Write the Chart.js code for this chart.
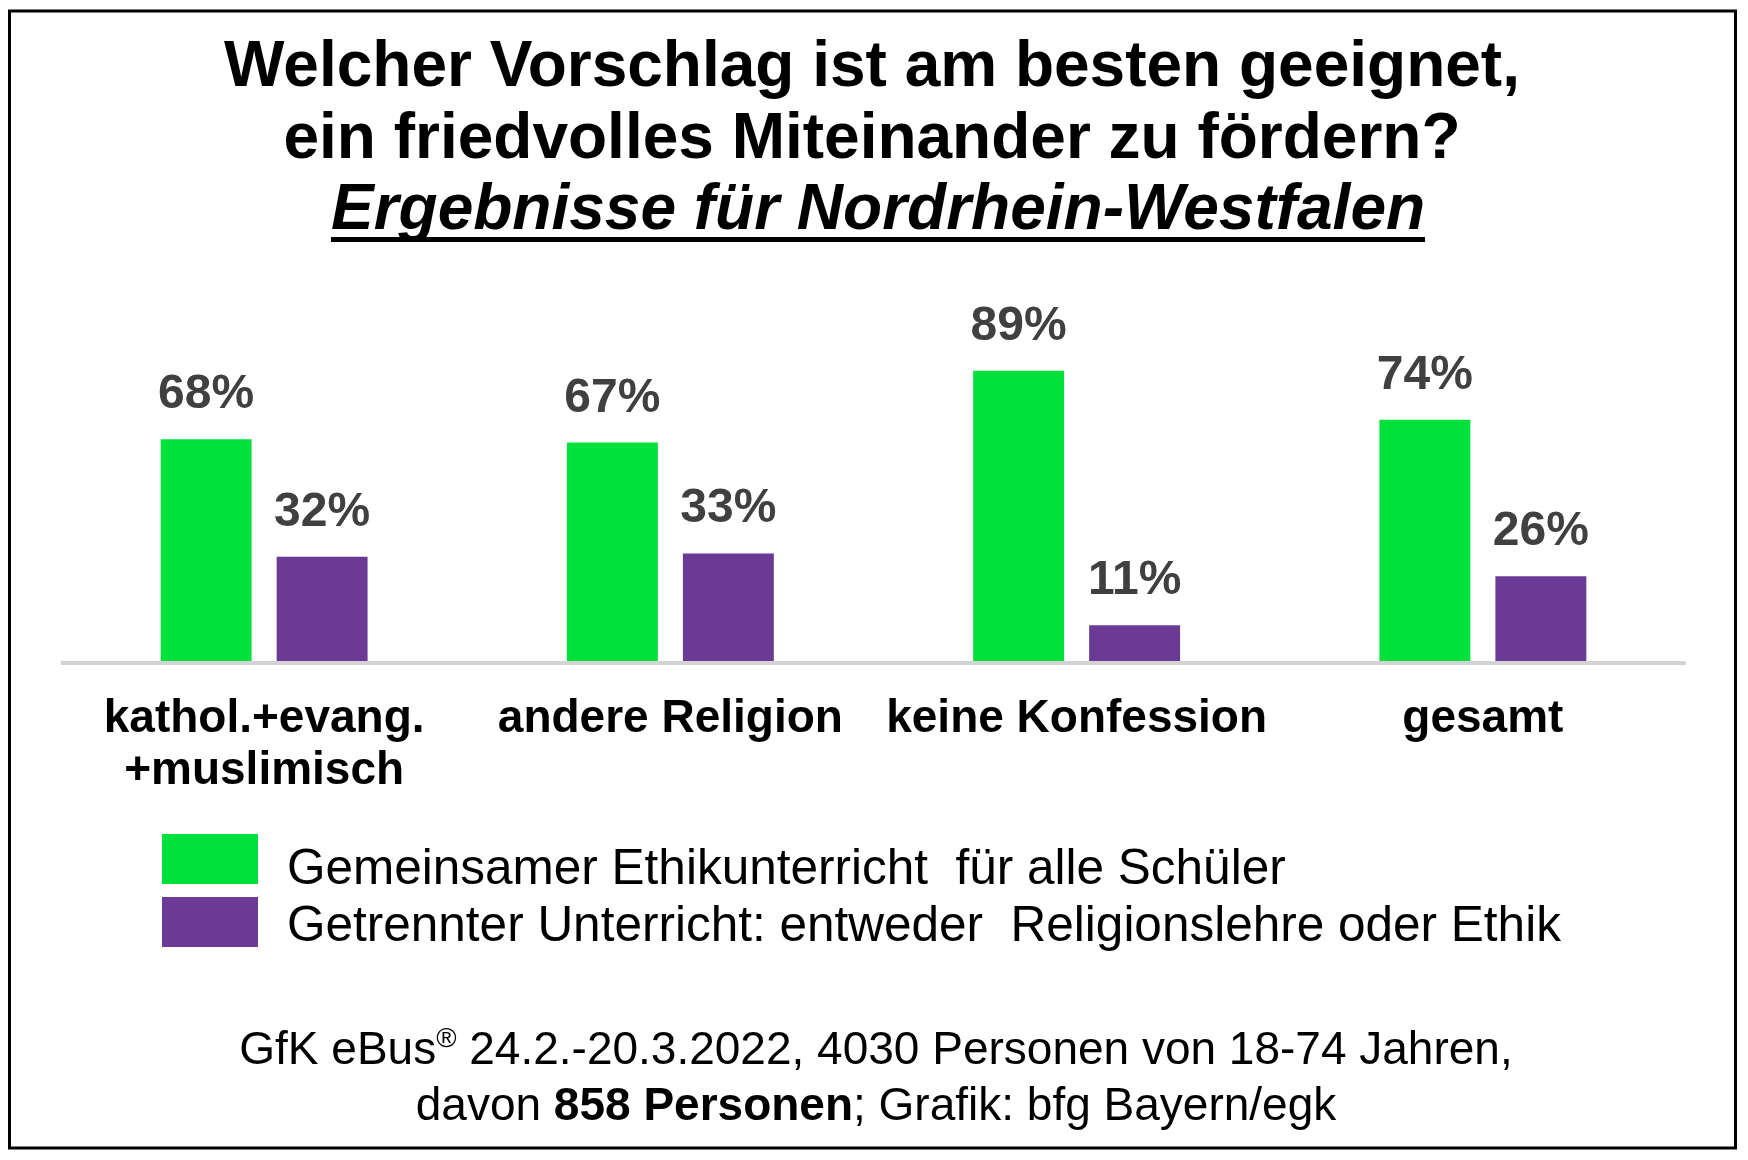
<!DOCTYPE html>
<html lang="de">
<head>
<meta charset="UTF-8">
<title>Welcher Vorschlag ist am besten geeignet?</title>
<script src="https://cdn.jsdelivr.net/npm/chart.js"></script>
<style>
    html, body { margin: 0; padding: 0; background: #fff; }
    canvas { display: block; }
</style>
</head>
<body>

<canvas id="grafik" width="1748" height="1160"></canvas>

<script>
    // Daten
    const kategorien = [['kathol.+evang.', '+muslimisch'], 'andere Religion', 'keine Konfession', 'gesamt'];
    const gemeinsam = [68, 67, 89, 74];
    const getrennt = [32, 33, 11, 26];
    const serien = ['Gemeinsamer Ethikunterricht  für alle Schüler', 'Getrennter Unterricht: entweder  Religionslehre oder Ethik'];
    const farben = ['#00e13b', '#6b3a94'];

    // Texte
    const titelZeilen = ['Welcher Vorschlag ist am besten geeignet,', 'ein friedvolles Miteinander zu fördern?'];
    const untertitel = 'Ergebnisse für Nordrhein-Westfalen';
    const quelleZeile1 = [{ t: 'GfK eBus' }, { t: '®', sup: true }, { t: ' 24.2.-20.3.2022, 4030 Personen von 18-74 Jahren,' }];
    const quelleZeile2 = [{ t: 'davon ' }, { t: '858 Personen', bold: true }, { t: '; Grafik: bfg Bayern/egk' }];

    const schrift = "'Liberation Sans', Arial, Helvetica, sans-serif";
    const mitte = 874;

    // Text aus mehreren Stücken zentriert schreiben
    function stueckeZeichnen(ctx, stuecke, cx, y, size) {
        const fontFor = s => (s.bold ? 'bold ' : '') + (s.sup ? size * 0.6 : size) + 'px ' + schrift;
        let breite = 0;
        stuecke.forEach(s => { ctx.font = fontFor(s); breite += ctx.measureText(s.t).width; });
        let x = cx - breite / 2;
        ctx.textAlign = 'left';
        stuecke.forEach(s => {
            ctx.font = fontFor(s);
            ctx.fillText(s.t, x, s.sup ? y - size * 0.38 : y);
            x += ctx.measureText(s.t).width;
        });
    }

    // Prozentwerte über den Balken
    const werteBeschriftung = {
        id: 'werteBeschriftung',
        afterDatasetsDraw(chart) {
            const ctx = chart.ctx;
            ctx.save();
            ctx.fillStyle = '#404040';
            ctx.font = 'bold 48px ' + schrift;
            ctx.textAlign = 'center';
            ctx.textBaseline = 'alphabetic';
            chart.data.datasets.forEach((ds, i) => {
                chart.getDatasetMeta(i).data.forEach((bar, j) => {
                    ctx.fillText(ds.data[j] + '%', bar.x, bar.y - 31);
                });
            });
            ctx.restore();
        }
    };

    // Grundlinie unter den Balken
    const grundlinie = {
        id: 'grundlinie',
        beforeDatasetsDraw(chart) {
            const { ctx, scales: { x, y } } = chart;
            ctx.save();
            ctx.fillStyle = '#d3d3d3';
            ctx.fillRect(x.left, y.getPixelForValue(0), x.right - x.left, 4);
            ctx.restore();
        }
    };

    // Titel, Legende, Quelle und Rahmen
    const rahmen = {
        id: 'rahmen',
        afterDraw(chart) {
            const ctx = chart.ctx;
            ctx.save();
            ctx.fillStyle = '#000';
            ctx.textBaseline = 'alphabetic';
            ctx.textAlign = 'center';

            ctx.font = 'bold 64px ' + schrift;
            ctx.fillText(titelZeilen[0], mitte - 2, 86);
            ctx.fillText(titelZeilen[1], mitte - 2, 158);
            ctx.font = 'italic bold 64px ' + schrift;
            ctx.fillText(untertitel, mitte + 4, 229);
            const w = ctx.measureText(untertitel).width;
            ctx.fillRect(mitte + 4 - w / 2, 237, w, 5);

            // Legende
            ctx.textAlign = 'left';
            ctx.font = '49.5px ' + schrift;
            const boxY = [834, 897];
            const textY = [884, 941];
            chart.data.datasets.forEach((ds, i) => {
                ctx.fillStyle = ds.backgroundColor;
                ctx.fillRect(162, boxY[i], 96, 50);
                ctx.fillStyle = '#000';
                ctx.fillText(ds.label, 287, textY[i]);
            });

            // Quelle
            stueckeZeichnen(ctx, quelleZeile1, 876, 1064, 46);
            stueckeZeichnen(ctx, quelleZeile2, 876, 1120, 46);

            // Rahmen
            ctx.strokeStyle = '#000';
            ctx.lineWidth = 3;
            ctx.strokeRect(9.5, 11, 1726, 1137);
            ctx.restore();
        }
    };

    const grafik = new Chart(document.getElementById('grafik'), {
        type: 'bar',
        data: {
            labels: kategorien,
            datasets: [
                { label: serien[0], data: gemeinsam, backgroundColor: farben[0], barPercentage: 0.784, categoryPercentage: 0.571 },
                { label: serien[1], data: getrennt, backgroundColor: farben[1], barPercentage: 0.784, categoryPercentage: 0.571 }
            ]
        },
        options: {
            responsive: false,
            animation: false,
            devicePixelRatio: 1,
            layout: { padding: { top: 335, bottom: 361, left: 61, right: 62 } },
            plugins: {
                legend: { display: false },
                title: { display: false },
                tooltip: { enabled: false }
            },
            scales: {
                x: {
                    grid: { display: false, drawTicks: false },
                    border: { display: false },
                    ticks: {
                        color: '#000',
                        font: { family: schrift, size: 46, weight: 'bold', lineHeight: 52 / 46 },
                        padding: 32,
                        maxRotation: 0,
                        autoSkip: false
                    },
                    afterFit: s => { s.height = 138; }
                },
                y: { display: false, min: 0, max: 100 }
            }
        },
        plugins: [grundlinie, werteBeschriftung, rahmen]
    });
</script>

</body>
</html>
